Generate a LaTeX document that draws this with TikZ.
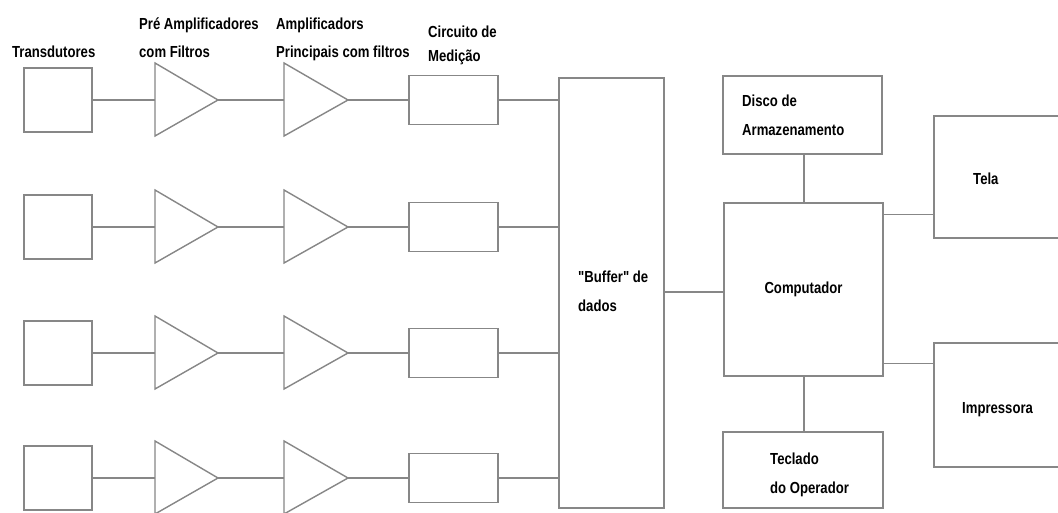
\documentclass[tikz,border=0pt]{standalone}
\usepackage{fontspec}
\setmainfont{Liberation Sans}[FakeStretch=0.82, Ligatures=TeXOff]
\usetikzlibrary{calc}
\definecolor{wirec}{RGB}{135,135,135}
\begin{document}
\begin{tikzpicture}[x=1pt,y=-1pt,
  wire/.style={draw=wirec, line width=1.4pt},
  blk/.style={draw=wirec, line width=1.4pt, fill=white, inner sep=0pt},
  txt/.style={font=\fontsize{16}{19}\selectfont\bfseries},
  lbl/.style={txt, inner sep=0pt, anchor=base west}]
\fill[white] (0,0) rectangle (1058,513);
\useasboundingbox (0,0) rectangle (1058,513);
\clip (0,0) rectangle (1058,513);

% central data buffer and computer section
\node[blk, minimum width=105pt, minimum height=430pt] (buf) at (611.5,293) {};
\node[blk, txt, minimum width=159pt, minimum height=173pt] (comp) at (803.5,289.5) {Computador};
\node[blk, minimum width=159pt, minimum height=78pt] (disk) at (802.5,115) {};
\node[blk, minimum width=160pt, minimum height=76pt] (kbd) at (803,470) {};
\node[blk, minimum width=136pt, minimum height=122pt] (tela) at (1002,177) {};
\node[blk, minimum width=136pt, minimum height=124pt] (prn) at (1002,405) {};

% four acquisition channels
\foreach \r/\yc in {1/100,2/227,3/353,4/478} {
  \node[blk, minimum width=68pt, minimum height=64pt] (td\r) at (58,\yc) {};
  \coordinate (pa\r) at (155,\yc);
  \coordinate (pt\r) at (218,\yc);
  \coordinate (ma\r) at (284,\yc);
  \coordinate (mt\r) at (348,\yc);
  \node[blk, minimum width=89pt, minimum height=49pt] (cm\r) at (453.5,\yc) {};
  \draw[wire, line join=miter] (pa\r) -- +(0,-37) -- (pt\r) -- +(-63,36) -- cycle;
  \draw[wire, line join=miter] (ma\r) -- +(0,-37) -- (mt\r) -- +(-64,36) -- cycle;
  \draw[wire] (td\r.east) -- (pa\r);
  \draw[wire] (pt\r) -- (ma\r);
  \draw[wire] (mt\r) -- (cm\r.west);
  \draw[wire] (cm\r.east) -- (cm\r.east -| buf.west);
}

% links around the computer
\coordinate (cin) at ($(comp.west)+(0,2.5)$);
\coordinate (cout1) at ($(comp.north east)+(0,12)$);
\coordinate (cout2) at ($(comp.south east)+(0,-13)$);
\coordinate (cx) at (804,0);
\draw[wire] (cin) -- (cin -| buf.east);
\draw[wire] (disk.south -| cx) -- (comp.north -| cx);
\draw[wire] (comp.south -| cx) -- (kbd.north -| cx);
\draw[wire] (cout1) -- (cout1 -| tela.west);
\draw[wire] (cout2) -- (cout2 -| prn.west);

% labels
\node[lbl] (l1) at (12,58) {Transdutores};
\node[lbl] (l2) at (139,30) {Pré Amplificadores};
\node[lbl] (l3) at (139,58) {com Filtros};
\node[lbl] (l4) at (276,30) {Amplificadors};
\node[lbl] (l5) at (276,58) {Principais com filtros};
\node[lbl] (l6) at (428,38) {Circuito de};
\node[lbl] (l7) at (428,62) {Medição};
\node[lbl] (l8) at (578,283) {"Buffer" de};
\node[lbl] (l9) at (578,311) {dados};
\node[lbl] (l10) at (742,107) {Disco de};
\node[lbl] (l11) at (742,136) {Armazenamento};
\node[lbl] (l12) at (973,185) {Tela};
\node[lbl] (l13) at (962,413) {Impressora};
\node[lbl] (l14) at (770,464) {Teclado};
\node[lbl] (l15) at (770,493) {do Operador};
\end{tikzpicture}
\end{document}
